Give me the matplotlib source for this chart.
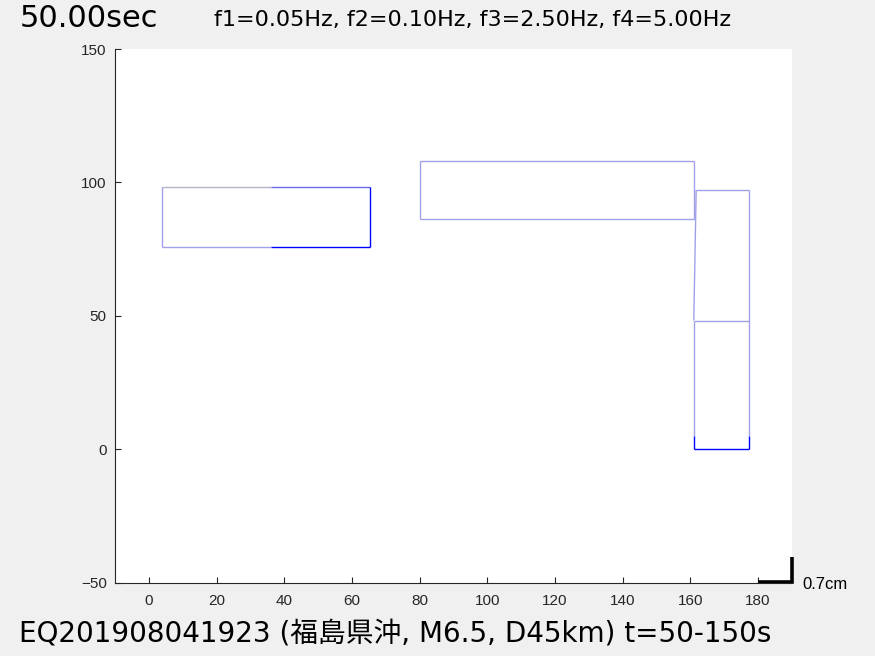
import numpy as np
import matplotlib
matplotlib.use("Agg")
import matplotlib.pyplot as plt

plt.rcParams['font.family'] = ['DejaVu Sans', 'Noto Sans CJK JP']

# frame members: x0, y0, x1, y1, colour key
seg_x0 = [3.8, 36.2, 65.4, 3.8, 36.2, 3.8,
          80.1, 80.1, 80.1, 161.2,
          161.7, 161.0, 161.0, 177.4, 177.4, 161.0, 161.0, 161.7]
seg_y0 = [98.5, 98.5, 75.7, 75.7, 75.7, 75.7,
          107.9, 86.5, 86.5, 107.9,
          97.2, 48.3, 4.9, 97.2, 4.9, 0.0, 48.3, 97.2]
seg_x1 = [36.2, 65.4, 65.4, 36.2, 65.4, 3.8,
          161.2, 161.2, 80.1, 161.2,
          161.0, 161.0, 161.0, 177.4, 177.4, 177.4, 177.4, 177.4]
seg_y1 = [98.5, 98.5, 98.5, 75.7, 75.7, 98.5,
          107.9, 86.5, 107.9, 86.5,
          48.3, 4.9, 0.0, 4.9, 0.0, 0.0, 48.3, 97.2]
seg_c = ['gray', 'mid', 'blue', 'light', 'blue', 'light',
         'light', 'light', 'light', 'light',
         'light', 'light', 'blue', 'light', 'blue', 'blue', 'light', 'light']

colors = {'gray': '#b4b4c8', 'mid': '#6a6af2', 'blue': '#0000ff', 'light': '#a0a0ea'}

xticks = np.arange(0, 181, 20)
yticks = np.arange(-50, 151, 50)

fig = plt.figure(figsize=(8.75, 6.56), dpi=100, facecolor='#f0f0f0')
ax = fig.add_axes([0.1314, 0.1113, 0.7737, 0.8140])
ax.set_facecolor('white')

for i in range(len(seg_c)):
    ax.plot([seg_x0[i], seg_x1[i]], [seg_y0[i], seg_y1[i]],
            color=colors[seg_c[i]], lw=1.0, solid_capstyle='butt')

ax.set_xlim(-10, 190)
ax.set_ylim(-50, 150)
ax.set_xticks(xticks)
ax.set_yticks(yticks)
ax.spines['top'].set_visible(False)
ax.spines['right'].set_visible(False)
for s in ['left', 'bottom']:
    ax.spines[s].set_linewidth(0.8)
    ax.spines[s].set_color('#262626')
ax.tick_params(direction='in', length=4, width=0.8, labelsize=11,
               colors='#262626', labelcolor='#262626')
ax.tick_params(axis='x', pad=8)
ax.tick_params(axis='y', pad=6)
for lab in ax.get_xticklabels() + ax.get_yticklabels():
    lab.set_family(['Liberation Sans', 'DejaVu Sans'])

# scale bar
ax.plot([180, 190, 190], [-49.6, -49.6, -40.2], color='black', lw=2.6,
        clip_on=False, solid_capstyle='butt', solid_joinstyle='miter')
fig.text(0.917, 0.109, '0.7cm', fontsize=12, ha='left', va='center',
         family=['Liberation Sans', 'DejaVu Sans'])

fig.text(0.022, 0.972, '50.00sec', fontsize=22, ha='left', va='center')
fig.text(0.245, 0.970, 'f1=0.05Hz, f2=0.10Hz, f3=2.50Hz, f4=5.00Hz',
         fontsize=16, ha='left', va='center')
fig.text(0.022, 0.035, 'EQ201908041923 (福島県沖, M6.5, D45km) t=50-150s',
         fontsize=20, ha='left', va='center')

fig.savefig('out.png', dpi=100, facecolor=fig.get_facecolor())
